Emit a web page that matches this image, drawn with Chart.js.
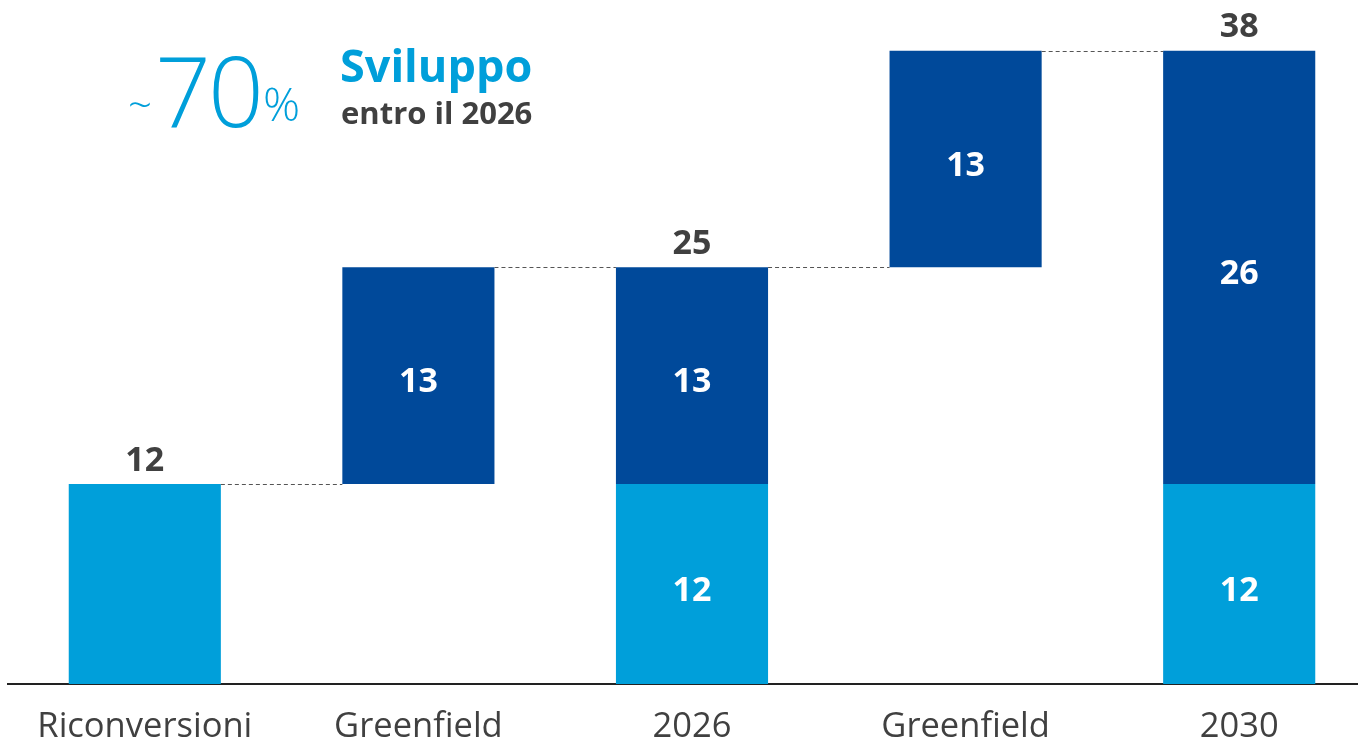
<!DOCTYPE html>
<html lang="it">
<head>
<meta charset="utf-8">
<title>Sviluppo entro il 2026</title>
<script src="https://cdn.jsdelivr.net/npm/chart.js@4/dist/chart.umd.min.js"></script>
<style>
  html, body { margin: 0; padding: 0; background: #fff; overflow: hidden; }
  #wrap { position: relative; width: 1376px; height: 743px; }
  .ann { position: absolute; font-family: "Open Sans", "Noto Sans", sans-serif; white-space: nowrap; line-height: 1; }
  .tilde { left: 128px; top: 83px; font-size: 42px; font-weight: 300; color: #009fda; }
  .big { left: 155px; top: 40px; font-size: 98px; font-weight: 300; color: #009fda; letter-spacing: -3px; }
  .pct { left: 263px; top: 80px; font-size: 46px; font-weight: 300; color: #009fda; }
  .head { left: 340px; top: 42px; font-size: 45px; font-weight: 700; color: #009fda; }
  .sub { left: 341px; top: 97px; font-size: 31px; font-weight: 700; color: #404040; }
</style>
</head>
<body>
<div id="wrap">
  <canvas id="c" width="1376" height="743"></canvas>
  <div class="ann tilde">~</div>
  <div class="ann big">70</div>
  <div class="ann pct">%</div>
  <div class="ann head">Sviluppo</div>
  <div class="ann sub">entro il 2026</div>
</div>
<script>
  // dati del grafico a cascata
  const categories = ["Riconversioni", "Greenfield", "2026", "Greenfield", "2030"];
  const riconv = [12, null, 12, null, 12];          // segmento azzurro
  const greenBase = [null, 12, 12, 25, 12];          // base segmento blu
  const greenVal = [null, 13, 13, 13, 26];           // altezza segmento blu
  const lightLabels = [null, null, 12, null, 12];
  const totals = [12, null, 25, null, 38];

  const LIGHT = "#009fda";
  const DARK = "#00499a";
  const FONT = '"Open Sans", "Noto Sans", sans-serif';

  const lightData = riconv.map((v) => (v == null ? null : [0, v]));
  const darkData = greenVal.map((v, i) => (v == null ? null : [greenBase[i], greenBase[i] + v]));

  // livello superiore di ogni barra, per i connettori tratteggiati
  const tops = categories.map((_, i) => darkData[i] ? darkData[i][1] : lightData[i][1]);

  const labelsPlugin = {
    id: "wfLabels",
    afterDatasetsDraw(chart) {
      const { ctx, scales: { y } } = chart;
      const mLight = chart.getDatasetMeta(0).data;
      const mDark = chart.getDatasetMeta(1).data;
      const barAt = (i) => (darkData[i] ? mDark[i] : mLight[i]);
      ctx.save();

      // connettori
      ctx.strokeStyle = "#555";
      ctx.lineWidth = 1;
      ctx.setLineDash([4, 3]);
      for (let i = 0; i < categories.length - 1; i++) {
        const a = barAt(i), b = barAt(i + 1);
        const yy = Math.round(y.getPixelForValue(tops[i])) + 0.5;
        ctx.beginPath();
        ctx.moveTo(a.x + a.width / 2, yy);
        ctx.lineTo(b.x - b.width / 2, yy);
        ctx.stroke();
      }
      ctx.setLineDash([]);

      ctx.textAlign = "center";
      ctx.textBaseline = "middle";
      ctx.font = "700 34px " + FONT;

      // valori dentro le barre
      ctx.fillStyle = "#fff";
      greenVal.forEach((v, i) => {
        if (v == null) return;
        const cy = y.getPixelForValue(greenBase[i] + v / 2) + 7;
        ctx.fillText(String(v), mDark[i].x, cy);
      });
      lightLabels.forEach((v, i) => {
        if (v == null) return;
        ctx.fillText(String(v), mLight[i].x, y.getPixelForValue(v / 2) + 7);
      });

      // totali sopra
      ctx.fillStyle = "#404040";
      totals.forEach((v, i) => {
        if (v == null) return;
        ctx.fillText(String(v), barAt(i).x, y.getPixelForValue(v) - 23);
      });
      ctx.restore();
    }
  };

  new Chart(document.getElementById("c"), {
    type: "bar",
    data: {
      labels: categories,
      datasets: [
        { data: lightData, backgroundColor: LIGHT, grouped: false, categoryPercentage: 1, barPercentage: 0.556 },
        { data: darkData, backgroundColor: DARK, grouped: false, categoryPercentage: 1, barPercentage: 0.556 }
      ]
    },
    options: {
      responsive: false,
      animation: false,
      devicePixelRatio: 1,
      layout: { padding: { left: 8, right: 0, top: 0, bottom: 0 } },
      plugins: { legend: { display: false }, tooltip: { enabled: false } },
      scales: {
        x: {
          grid: { display: false },
          border: { display: true, color: "#222", width: 2 },
          ticks: { color: "#404040", font: { family: FONT, size: 34.5 }, padding: 14 },
          afterFit(s) { s.height = 59; }
        },
        y: { display: false, min: 0, max: 41.04 }
      }
    },
    plugins: [labelsPlugin]
  });
</script>
</body>
</html>
